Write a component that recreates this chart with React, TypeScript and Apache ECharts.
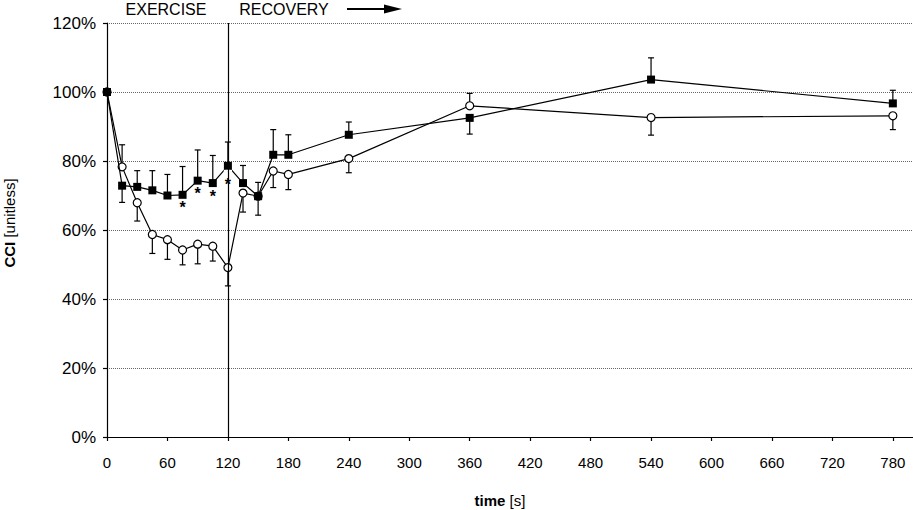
import React, { useEffect, useRef } from "react";
import * as echarts from "echarts";

const times = [0, 15, 30, 45, 60, 75, 90, 105, 120, 135, 150, 165, 180, 240, 360, 540, 780];
const squareValues = [100, 72.85, 72.5, 71.5, 70.0, 70.2, 74.3, 73.6, 78.6, 73.6, 69.8, 81.8, 81.8, 87.6, 92.5, 103.6, 96.7];
const squareErrEnds = [null, 68.0, 77.2, 77.2, 76.1, 78.4, 83.2, 81.6, 85.5, 78.7, 73.8, 89.1, 87.6, 91.3, 87.8, 109.9, 100.5];
const circleValues = [100, 78.3, 67.9, 58.7, 57.2, 54.2, 55.9, 55.3, 49.1, 70.7, 69.8, 77.1, 76.1, 80.7, 96.0, 92.6, 93.1];
const circleErrEnds = [null, 84.7, 62.6, 53.2, 51.5, 49.9, 50.2, 51.0, 43.8, 65.2, 64.3, 72.3, 71.7, 76.6, 99.6, 87.5, 89.1];
const significantTimes = [75, 90, 105, 120];
const xTicks = [0, 60, 120, 180, 240, 300, 360, 420, 480, 540, 600, 660, 720, 780];
const yTicks = [0, 20, 40, 60, 80, 100, 120];

const FONT = "'Liberation Sans', Arial, Helvetica, sans-serif";

export default function App() {
  const ref = useRef<HTMLDivElement>(null);
  useEffect(() => {
    if (!ref.current) return;
    const chart = echarts.init(ref.current, null, { renderer: "svg" });

    const squareData = times.map((t, i) => {
      const item: any = { value: [t, squareValues[i]] };
      if (significantTimes.includes(t)) {
        item.label = {
          show: true,
          position: "bottom",
          distance: t === 120 ? 0 : 1,
          formatter: "*",
          fontSize: 16,
          fontWeight: "bold",
          color: "#000",
          fontFamily: FONT,
          backgroundColor: t === 120 ? "#fff" : "transparent",
          padding: t === 120 ? [7, 1, 4, 1] : 0,
        };
      }
      return item;
    });
    const circleData = times.map((t, i) => [t, circleValues[i]]);
    const errData: any[] = [];
    times.forEach((t, i) => {
      if (circleErrEnds[i] != null) errData.push([t, circleValues[i], circleErrEnds[i]]);
      if (squareErrEnds[i] != null) errData.push([t, squareValues[i], squareErrEnds[i]]);
    });

    const option: any = {
      animation: false,
      backgroundColor: "#fff",
      textStyle: { fontFamily: FONT },
      grid: { left: 107, right: 0, top: 23, bottom: 73 },
      xAxis: {
        type: "value",
        min: 0,
        max: 800,
        interval: 60,
        axisLine: { show: true, onZero: false, lineStyle: { color: "#000", width: 1.2 } },
        axisTick: { show: true, length: 4, customValues: xTicks, lineStyle: { color: "#000", width: 1.2 } },
        axisLabel: { customValues: xTicks, fontSize: 15, color: "#000", margin: 18, fontFamily: FONT },
        splitLine: { show: false },
      },
      yAxis: {
        type: "value",
        min: 0,
        max: 120,
        interval: 20,
        axisLine: { show: true, lineStyle: { color: "#000", width: 1.2 } },
        axisTick: { show: true, length: 4, customValues: yTicks, lineStyle: { color: "#000", width: 1.2 } },
        axisLabel: { customValues: yTicks, formatter: "{value}%", fontSize: 17, color: "#000", margin: 11, fontFamily: FONT },
        splitLine: { show: true, lineStyle: { color: "#666", type: "dotted", width: 1 } },
      },
      series: [
        {
          type: "custom",
          z: 1,
          renderItem: (params: any, api: any) => {
            const x = api.value(0);
            const v = api.value(1);
            const e = api.value(2);
            const p1 = api.coord([x, v]);
            const p2 = api.coord([x, e]);
            return {
              type: "group",
              children: [
                { type: "line", shape: { x1: p1[0], y1: p1[1], x2: p2[0], y2: p2[1] }, style: { stroke: "#000", lineWidth: 1.2 } },
                { type: "line", shape: { x1: p2[0] - 3, y1: p2[1], x2: p2[0] + 3, y2: p2[1] }, style: { stroke: "#000", lineWidth: 1.2 } },
              ],
            };
          },
          encode: { x: 0, y: [1, 2] },
          data: errData,
        },
        {
          type: "line",
          z: 3,
          data: circleData,
          symbol: "circle",
          symbolSize: 8,
          lineStyle: { color: "#000", width: 1.2 },
          itemStyle: { color: "#fff", borderColor: "#000", borderWidth: 1.2 },
          markLine: {
            silent: true,
            symbol: "none",
            label: { show: false },
            lineStyle: { color: "#000", type: "solid", width: 1.2 },
            data: [{ xAxis: 120 }],
          },
        },
        {
          type: "line",
          z: 4,
          data: squareData,
          symbol: "rect",
          symbolSize: 8,
          lineStyle: { color: "#000", width: 1.2 },
          itemStyle: { color: "#000" },
        },
      ],
      graphic: [
        { type: "text", x: 166, y: 9, style: { text: "EXERCISE", fontSize: 16, fontFamily: FONT, fill: "#000", textAlign: "center", textVerticalAlign: "middle" } },
        { type: "text", x: 284, y: 9, style: { text: "RECOVERY", fontSize: 16, fontFamily: FONT, fill: "#000", textAlign: "center", textVerticalAlign: "middle" } },
        { type: "line", shape: { x1: 347, y1: 9, x2: 390, y2: 9 }, style: { stroke: "#000", lineWidth: 2 } },
        { type: "polygon", shape: { points: [[384, 4.5], [402, 9], [384, 13.5]] }, style: { fill: "#000" } },
        {
          type: "text",
          x: 500,
          y: 500,
          style: {
            text: "{b|time} [s]",
            fontSize: 15,
            fontFamily: FONT,
            fill: "#000",
            textAlign: "center",
            textVerticalAlign: "middle",
            rich: { b: { fontWeight: "bold", fontSize: 15, fontFamily: FONT, fill: "#000" } },
          },
        },
        {
          type: "text",
          x: 9,
          y: 223,
          rotation: Math.PI / 2,
          style: {
            text: "{b|CCI} [unitless]",
            fontSize: 15,
            fontFamily: FONT,
            fill: "#000",
            textAlign: "center",
            textVerticalAlign: "middle",
            rich: { b: { fontWeight: "bold", fontSize: 15, fontFamily: FONT, fill: "#000" } },
          },
        },
      ],
    };
    chart.setOption(option);
    return () => chart.dispose();
  }, []);
  return <div ref={ref} style={{ position: "fixed", left: 0, top: 0, width: 913, height: 510 }} />;
}
